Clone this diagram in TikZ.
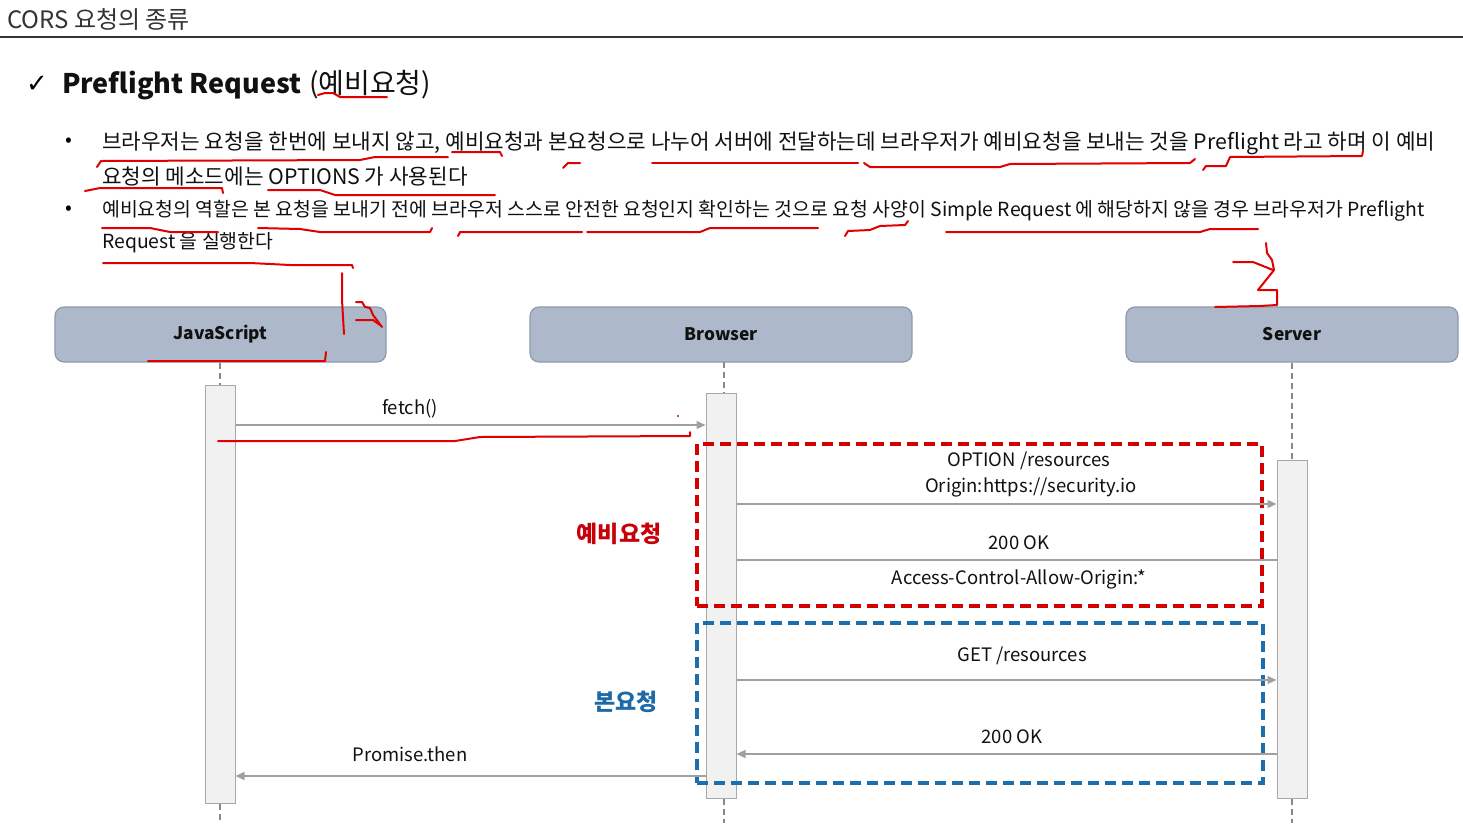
\documentclass[tikz,border=0pt]{standalone}
\usepackage{fontspec}
\setmainfont{Noto Sans CJK KR}
\newfontfamily\symfont{DejaVu Sans}
\usetikzlibrary{arrows.meta}
\definecolor{ink}{HTML}{111111}
\definecolor{headink}{HTML}{333333}
\definecolor{actorfill}{HTML}{ADB9CA}
\definecolor{actorline}{HTML}{8E9AAD}
\definecolor{barfill}{HTML}{F1F1F1}
\definecolor{barline}{HTML}{A8A8A8}
\definecolor{msgline}{HTML}{A0A0A0}
\definecolor{preRed}{HTML}{D40000}
\definecolor{mainBlue}{HTML}{1F6EAC}
\definecolor{labRed}{HTML}{C8000A}
\definecolor{labBlue}{HTML}{1C6AA8}
\definecolor{pen}{HTML}{E00000}
\newcommand\fsz[1]{\fontsize{#1}{#1}\selectfont}
\tikzset{
  txt/.style={inner sep=0pt, anchor=base west, text=ink, font=\fsz{21.3}},
  actor/.style={draw=actorline, fill=actorfill, line width=1.2pt, rounded corners=9pt,
    minimum height=55pt, font=\fsz{17.3}\bfseries, text=ink, inner sep=0pt},
  bar/.style={draw=barline, fill=barfill, line width=1pt, minimum width=30pt, inner sep=0pt},
  life/.style={draw=msgline!85!black, line width=1.5pt, dash pattern=on 6pt off 4pt},
  msg/.style={draw=msgline, line width=1.2pt, -{Triangle[length=9pt,width=8pt]}, color=msgline},
  plain/.style={draw=msgline, line width=1.2pt},
  mlab/.style={inner sep=0pt, text=ink, font=\fsz{18.5}},
  zone/.style={line width=3.5pt, dash pattern=on 11pt off 6pt, inner sep=0pt, fill=none},
  penline/.style={draw=pen, line width=2pt, line join=round, line cap=round}
}
\begin{document}
\begin{tikzpicture}[x=1pt,y=-1pt]
\useasboundingbox (0,0) rectangle (1463,823);
\fill[white] (0,0) rectangle (1463,823);

% page header
\node[inner sep=0pt, anchor=base west, text=headink, font=\fsz{24}] (head) at (7,28) {CORS 요청의 종류};
\draw[line width=2.2pt, draw=headink] (0,37) -- (1463,37);

% section title
\node[inner sep=0pt, anchor=base west, font=\symfont\fsz{26}] (tick) at (26,92) {✓};
\node[inner sep=0pt, anchor=base west, font=\fsz{27}\bfseries, text=ink] (ttl) at (62,93) {Preflight Request};
\node[inner sep=0pt, anchor=base west, font=\fsz{28}, text=ink] (ttlk) at (309,93) {(예비요청)};

% bullet text
\node[inner sep=0pt, font=\fsz{20}] (b1) at (69,142) {•};
\node[inner sep=0pt, font=\fsz{20}] (b2) at (69,210) {•};
\node[txt] (l1) at (102,149) {브라우저는 요청을 한번에 보내지 않고, 예비요청과 본요청으로 나누어 서버에 전달하는데 브라우저가 예비요청을 보내는 것을 Preflight 라고 하며 이 예비};
\node[txt] (l2) at (102,184) {요청의 메소드에는 OPTIONS 가 사용된다};
\node[txt, font=\fsz{19.4}] (l3) at (102,216) {예비요청의 역할은 본 요청을 보내기 전에 브라우저 스스로 안전한 요청인지 확인하는 것으로 요청 사양이 Simple Request 에 해당하지 않을 경우 브라우저가 Preflight};
\node[txt, font=\fsz{19.4}] (l4) at (102,248) {Request 을 실행한다};

% participants
\node[actor, minimum width=331pt] (js) at (220.5,334.5) {\raisebox{-1pt}{JavaScript}};
\node[actor, minimum width=382pt] (br) at (721,334.5) {\raisebox{-1pt}{Browser}};
\node[actor, minimum width=332pt] (sv) at (1292,334.5) {\raisebox{-1pt}{Server}};

% activation bars
\node[bar, minimum height=418pt] (jsbar) at (220,594) {};
\node[bar, minimum height=405pt] (brbar) at (721,595.5) {};
\node[bar, minimum height=338pt] (svbar) at (1292,629) {};

% lifelines
\coordinate (jsend) at (220,823);
\coordinate (brend) at (724,823);
\coordinate (svend) at (1292,823);
\draw[life] (js.south -| jsbar.north) -- (jsbar.north);
\draw[life] (jsbar.south) -- (jsend);
\draw[life] (724,362) -- (724,393);
\draw[life] (brbar.south -| brend) -- (brend);
\draw[life] (sv.south -| svbar.north) -- (svbar.north);
\draw[life] (svbar.south) -- (svend);

% grouping frames
\node[zone, draw=preRed, minimum width=565pt, minimum height=162pt] (pre) at (979.5,525) {};
\node[zone, draw=mainBlue, minimum width=566pt, minimum height=160pt] (main) at (980,703) {};
\node[inner sep=0pt, font=\fsz{23}\bfseries, text=labRed] (prelab) at (619,534) {예비요청};
\node[inner sep=0pt, font=\fsz{23}\bfseries, text=labBlue] (mainlab) at (626,702) {본요청};

% messages
\draw[msg] (jsbar.east |- 0,425) -- (brbar.west |- 0,425);
\node[mlab] (m1) at (410,409) {fetch()};
\draw[msg] (brbar.east |- 0,504) -- (svbar.west |- 0,504);
\node[mlab] (m2a) at (1029,461) {OPTION /resources};
\node[mlab] (m2b) at (1031,487) {Origin:https://security.io};
\draw[plain] (svbar.west |- 0,560) -- (brbar.east |- 0,560);
\node[mlab] (m3a) at (1019,543) {200 OK};
\node[mlab] (m3b) at (1019,579) {Access-Control-Allow-Origin:*};
\draw[msg] (brbar.east |- 0,680) -- (svbar.west |- 0,680);
\node[mlab] (m4) at (1022,656) {GET /resources};
\draw[msg] (svbar.west |- 0,754) -- (brbar.east |- 0,754);
\node[mlab] (m5) at (1012,737) {200 OK};
\draw[msg] (brbar.west |- 0,776) -- (jsbar.east |- 0,776);
\node[mlab] (m6) at (410,754) {Promise.then};

% pen marks
\draw[penline] (318,95) -- (325,93) -- (333,93) -- (340,97) -- (387,97);
\draw[penline] (97,167) -- (101,161) -- (360,160) -- (375,157) -- (448,157);
\draw[penline] (452,152) -- (500,152) -- (502,156);
\draw[penline] (563,168) -- (568,163) -- (580,163);
\draw[penline] (652,163) -- (858,163);
\draw[penline] (864,163) -- (870,167) -- (1000,167) -- (1010,164) -- (1190,163) -- (1195,159);
\draw[penline] (1203,170) -- (1206,166) -- (1226,166) -- (1230,157) -- (1362,156) -- (1363,151);
\draw[penline] (85,191) -- (100,188) -- (222,188) -- (223,193);
\draw[penline] (268,190) -- (320,190) -- (335,195) -- (495,195);
\draw[penline] (102,228) -- (150,228) -- (170,232) -- (218,232);
\draw[penline] (258,228) -- (300,229) -- (320,232) -- (430,232) -- (432,228);
\draw[penline] (458,236) -- (460,232) -- (582,232);
\draw[penline] (587,232) -- (700,232) -- (710,228) -- (818,228);
\draw[penline] (845,236) -- (848,231) -- (870,230) -- (880,226) -- (905,225) -- (908,221);
\draw[penline] (946,232) -- (1200,232) -- (1210,229) -- (1258,229);
\draw[penline] (103,263) -- (250,263) -- (290,265) -- (352,265) -- (353,268);
\draw[penline] (342,273) -- (342,300) -- (344,334);
\draw[penline] (356,302) -- (362,302) -- (365,307) -- (370,308) -- (373,315) -- (382,327);
\draw[penline] (356,320) -- (373,320) -- (380,325);
\draw[penline] (148,361) -- (325,361) -- (326,352);
\draw[penline] (1266,243) -- (1267,253) -- (1272,260) -- (1274,270) -- (1258,290) -- (1277,290) -- (1277,305) -- (1260,306) -- (1215,307);
\draw[penline] (1233,262) -- (1253,262) -- (1273,270);
\draw[penline] (218,441) -- (455,441) -- (480,437) -- (690,436) -- (690,432);
\fill[pen] (678,416) circle (1.2pt);
\end{tikzpicture}
\end{document}
